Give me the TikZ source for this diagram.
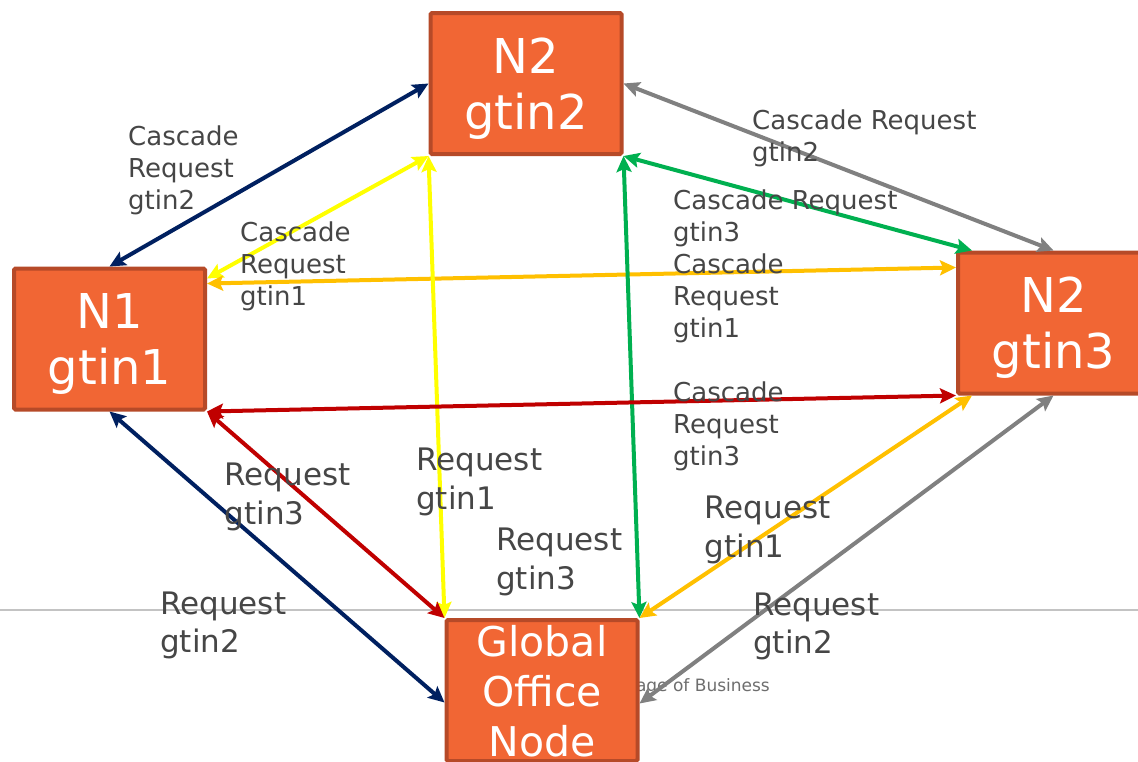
\documentclass[tikz,border=0pt]{standalone}
\usepackage{fontspec}
\setmainfont{DejaVu Sans}
\usetikzlibrary{arrows.meta,calc}
\definecolor{boxfill}{RGB}{241,102,52}
\definecolor{boxline}{RGB}{182,74,40}
\definecolor{navyc}{RGB}{0,32,96}
\definecolor{yellowc}{RGB}{255,255,0}
\definecolor{goldc}{RGB}{255,192,0}
\definecolor{greenc}{RGB}{0,176,80}
\definecolor{grayc}{RGB}{128,128,128}
\definecolor{redc}{RGB}{192,0,0}
\definecolor{lblgray}{RGB}{70,70,70}
\definecolor{rulegray}{RGB}{195,195,195}
\definecolor{footgray}{RGB}{110,110,110}
\begin{document}
\begin{tikzpicture}[x=1pt,y=-1pt,
  box/.style={draw=boxline, fill=boxfill, line width=4pt, rounded corners=1.5pt,
    minimum width=191pt, minimum height=141pt, inner sep=0pt, text=white,
    align=center, text depth=0pt, font=\fontsize{48}{56}\selectfont},
  conn/.style={line width=4pt,
    {Stealth[length=16pt,width=15pt,inset=3pt]}-{Stealth[length=16pt,width=15pt,inset=3pt]}},
  smalllbl/.style={anchor=north west, inner sep=0pt, align=left, text=lblgray,
    font=\fontsize{26}{32}\selectfont},
  biglbl/.style={anchor=north west, inner sep=0pt, align=left, text=lblgray,
    font=\fontsize{31}{38.5}\selectfont}]
\useasboundingbox (0,0) rectangle (1138,761);
\clip (0,0) rectangle (1138,761);
\fill[white] (0,0) rectangle (1138,761);
% slide rule and footer
\draw[rulegray, line width=2.5pt] (0,610) -- (1138,610);
\node[anchor=base east, inner sep=0pt, text=footgray, font=\fontsize{17}{20}\selectfont] (foot) at (770,691.5) {The Global Language of Business};
% nodes
\node[box] (n2) at (526,83.5) {N2\\gtin2};
\node[box] (n1) at (109.5,339) {N1\\gtin1};
\node[box] (n3) at (1053.5,323) {N2\\gtin3};
\node[box, font=\fontsize{41}{50}\selectfont] (go) at (542,690.5) {Global\\Office\\Node};
% connectors
\draw[conn, navyc] (n1.north) -- (n2.west);
\draw[conn, yellowc] ($(n1.north east)+(0,12)$) -- (n2.south west);
\draw[conn, goldc] ($(n1.north east)+(0,17)$) -- ($(n3.north west)+(0,17)$);
\draw[conn, yellowc] (n2.south west) -- (go.north west);
\draw[conn, greenc] (n2.south east) -- (go.north east);
\draw[conn, greenc] (n2.south east) -- ($(n3.north west)+(16,0)$);
\draw[conn, grayc] (n2.east) -- (n3.north);
\draw[conn, redc] (n1.south east) -- (n3.south west);
\draw[conn, redc] (n1.south east) -- (go.north west);
\draw[conn, navyc] (n1.south) -- ($(go.west)+(0,12)$);
\draw[conn, goldc] (go.north east) -- ($(n3.south west)+(16,0)$);
\draw[conn, grayc] ($(go.east)+(0,13)$) -- (n3.south);
% labels
\node[smalllbl] (l1) at (128,126) {Cascade\\Request\\gtin2};
\node[smalllbl] (l2) at (240,221.5) {Cascade\\Request\\gtin1};
\node[smalllbl] (l3) at (752,109.5) {Cascade Request\\gtin2};
\node[smalllbl] (l4) at (673,190) {Cascade Request\\gtin3};
\node[smalllbl] (l5) at (673,254) {Cascade\\Request\\gtin1};
\node[smalllbl] (l6) at (673,381.5) {Cascade\\Request\\gtin3};
\node[biglbl] (l7) at (224.5,463) {Request\\gtin3};
\node[biglbl] (l8) at (416,448) {Request\\gtin1};
\node[biglbl] (l9) at (496,528) {Request\\gtin3};
\node[biglbl] (l10) at (704.5,496) {Request\\gtin1};
\node[biglbl] (l11) at (160,591.5) {Request\\gtin2};
\node[biglbl] (l12) at (753,592.5) {Request\\gtin2};
\end{tikzpicture}
\end{document}
